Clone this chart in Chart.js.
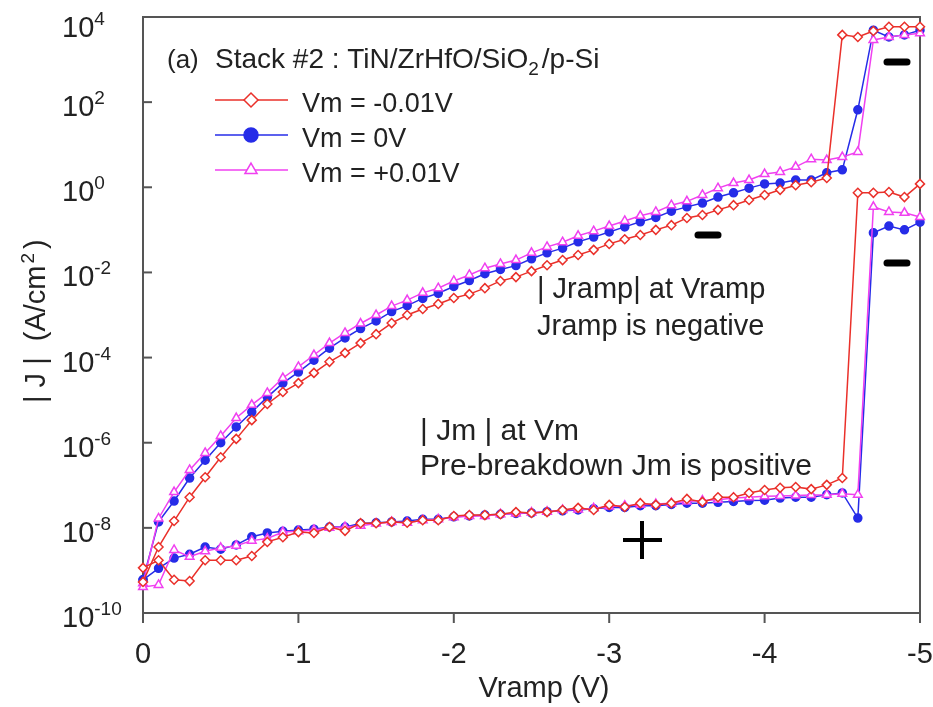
<!DOCTYPE html>
<html>
<head>
<meta charset="utf-8">
<title>Stack #2 J-V</title>
<script src="https://cdn.jsdelivr.net/npm/chart.js@4.4.1/dist/chart.umd.min.js"></script>
<style>
  body { margin: 0; background: #fff; }
</style>
</head>
<body>
<canvas id="myChart" width="933" height="707"></canvas>
<script>
// ramp voltage (V), one reading every 0.1 V
const vramp = [0, -0.1, -0.2, -0.3, -0.4, -0.5, -0.6, -0.7, -0.8, -0.9,
  -1.0, -1.1, -1.2, -1.3, -1.4, -1.5, -1.6, -1.7, -1.8, -1.9,
  -2.0, -2.1, -2.2, -2.3, -2.4, -2.5, -2.6, -2.7, -2.8, -2.9,
  -3.0, -3.1, -3.2, -3.3, -3.4, -3.5, -3.6, -3.7, -3.8, -3.9,
  -4.0, -4.1, -4.2, -4.3, -4.4, -4.5, -4.6, -4.7, -4.8, -4.9, -5.0];

// |J|, kept as powers of ten (log10 of A/cm2)
// |Jramp| at Vramp
const rampNeg = [-9.27, -8.45, -7.84, -7.28, -6.81, -6.34, -5.91, -5.47, -5.09, -4.81,
  -4.60, -4.36, -4.10, -3.89, -3.66, -3.45, -3.19, -3.00, -2.86, -2.74,
  -2.60, -2.51, -2.37, -2.20, -2.11, -1.97, -1.83, -1.71, -1.59, -1.47,
  -1.33, -1.22, -1.12, -1.00, -0.89, -0.72, -0.65, -0.53, -0.42, -0.30,
  -0.18, -0.06, 0.05, 0.12, 0.22, 3.58, 3.53, 3.67, 3.77, 3.77, 3.77];
const rampZero = [-9.22, -7.86, -7.37, -6.83, -6.41, -6.00, -5.63, -5.28, -4.93, -4.60,
  -4.34, -4.06, -3.78, -3.54, -3.32, -3.14, -2.92, -2.78, -2.61, -2.49,
  -2.33, -2.19, -2.03, -1.93, -1.84, -1.68, -1.54, -1.43, -1.28, -1.17,
  -1.05, -0.93, -0.81, -0.71, -0.56, -0.46, -0.37, -0.23, -0.13, -0.02,
  0.08, 0.10, 0.17, 0.17, 0.34, 0.41, 1.82, 3.69, 3.53, 3.58, 3.69];
const rampPos = [-9.30, -7.78, -7.16, -6.64, -6.24, -5.84, -5.42, -5.11, -4.83, -4.48,
  -4.22, -3.94, -3.66, -3.42, -3.20, -3.00, -2.79, -2.65, -2.48, -2.37,
  -2.20, -2.06, -1.90, -1.80, -1.71, -1.54, -1.40, -1.29, -1.14, -1.03,
  -0.91, -0.79, -0.67, -0.58, -0.42, -0.33, -0.18, -0.02, 0.10, 0.17,
  0.31, 0.36, 0.48, 0.66, 0.64, 0.71, 0.83, 3.46, 3.53, 3.58, 3.62];

// |Jm| at Vm
const jmNeg = [-8.94, -8.76, -9.22, -9.25, -8.76, -8.76, -8.76, -8.66, -8.33, -8.22,
  -8.10, -8.12, -7.98, -8.07, -7.89, -7.89, -7.86, -7.88, -7.82, -7.82,
  -7.72, -7.70, -7.70, -7.68, -7.63, -7.65, -7.63, -7.58, -7.53, -7.58,
  -7.46, -7.51, -7.42, -7.46, -7.42, -7.32, -7.39, -7.28, -7.28, -7.18,
  -7.11, -7.06, -7.04, -7.09, -6.99, -6.83, -0.13, -0.13, -0.11, -0.23, 0.08];
const jmZero = [-9.22, -8.95, -8.71, -8.62, -8.45, -8.50, -8.40, -8.21, -8.12, -8.08,
  -8.05, -8.03, -7.98, -7.98, -7.90, -7.88, -7.86, -7.84, -7.80, -7.80,
  -7.74, -7.72, -7.70, -7.68, -7.66, -7.65, -7.62, -7.60, -7.58, -7.55,
  -7.52, -7.52, -7.48, -7.48, -7.45, -7.42, -7.42, -7.40, -7.38, -7.36,
  -7.35, -7.30, -7.28, -7.28, -7.22, -7.18, -7.77, -1.07, -0.91, -1.00, -0.82];
const jmPos = [-9.39, -9.34, -8.52, -8.68, -8.55, -8.47, -8.42, -8.30, -8.25, -8.10,
  -8.08, -8.05, -8.00, -7.98, -7.95, -7.90, -7.86, -7.88, -7.82, -7.80,
  -7.75, -7.72, -7.72, -7.68, -7.66, -7.64, -7.62, -7.58, -7.57, -7.54,
  -7.50, -7.48, -7.46, -7.44, -7.42, -7.38, -7.36, -7.34, -7.30, -7.28,
  -7.26, -7.25, -7.24, -7.23, -7.22, -7.20, -7.22, -0.46, -0.58, -0.60, -0.70];

const seriesNames = ['Vm = -0.01V', 'Vm = 0V', 'Vm = +0.01V'];
const xTicks = [0, -1, -2, -3, -4, -5];
const yTickExp = [-10, -8, -6, -4, -2, 0, 2, 4];

const RED = 'rgb(234, 48, 42)';
const BLUE = 'rgb(38, 44, 232)';
const MAGENTA = 'rgb(240, 64, 240)';
const FONT = '"Liberation Sans", Arial, Helvetica, sans-serif';

function points(exps) {
  return vramp.map((v, i) => ({ x: v, y: Math.pow(10, exps[i]) }));
}

function series(label, exps, color, style, fill, radius) {
  return {
    label: label,
    data: points(exps),
    showLine: true,
    borderColor: color,
    borderWidth: 1.5,
    pointStyle: style,
    pointRadius: radius,
    pointBorderWidth: 1.5,
    pointBackgroundColor: fill,
    pointBorderColor: color,
    tension: 0,
    clip: false
  };
}

// first dataset ends up on top
const datasets = [
  series(seriesNames[0], jmNeg, RED, 'rectRot', '#fff', 4.5),
  series(seriesNames[0], rampNeg, RED, 'rectRot', '#fff', 4.5),
  series(seriesNames[2], jmPos, MAGENTA, 'triangle', '#fff', 5),
  series(seriesNames[2], rampPos, MAGENTA, 'triangle', '#fff', 5),
  series(seriesNames[1], jmZero, BLUE, 'circle', BLUE, 4),
  series(seriesNames[1], rampZero, BLUE, 'circle', BLUE, 4)
];

function txt(ctx, str, x, y, size, align) {
  ctx.font = size + 'px ' + FONT;
  ctx.textAlign = align || 'left';
  ctx.textBaseline = 'alphabetic';
  ctx.fillText(str, x, y);
  return ctx.measureText(str).width;
}

// frame, ticks, tick labels, legend and notes
const decor = {
  id: 'decor',
  beforeDatasetsDraw(chart) {
    const ctx = chart.ctx;
    const a = chart.chartArea;
    ctx.save();
    ctx.strokeStyle = '#555';
    ctx.lineWidth = 2;
    ctx.strokeRect(a.left, a.top, a.right - a.left, a.bottom - a.top);
    ctx.restore();
  },
  afterDraw(chart) {
    const ctx = chart.ctx;
    const a = chart.chartArea;
    const xs = chart.scales.x;
    const ys = chart.scales.y;
    ctx.save();
    ctx.strokeStyle = '#555';
    ctx.fillStyle = '#222';
    ctx.lineWidth = 2;

    // y ticks point inward, labels 10^n
    yTickExp.forEach(function (e) {
      const py = ys.getPixelForValue(Math.pow(10, e));
      ctx.beginPath();
      ctx.moveTo(a.left, py);
      ctx.lineTo(a.left + 9, py);
      ctx.stroke();
      const base = Math.max(py + 14, a.top + 20);
      const w = txt(ctx, '10', 62, base, 29);
      txt(ctx, String(e), 62 + w, base - 12, 19);
    });

    // x ticks point outward
    xTicks.forEach(function (v) {
      const px = xs.getPixelForValue(v);
      ctx.beginPath();
      ctx.moveTo(px, a.bottom);
      ctx.lineTo(px, a.bottom + 10);
      ctx.stroke();
      txt(ctx, String(v), px, 663, 29, 'center');
    });

    // axis titles
    txt(ctx, 'Vramp (V)', 544, 697, 29, 'center');
    ctx.save();
    ctx.translate(45, 403);
    ctx.rotate(-Math.PI / 2);
    let w = txt(ctx, '| J |  (A/cm', 0, 0, 29);
    w += txt(ctx, '2', w + 2, -11, 19);
    txt(ctx, ')', w + 6, 0, 29);
    ctx.restore();

    // title line
    txt(ctx, '(a)', 167, 68, 26);
    let tw = txt(ctx, 'Stack #2 : TiN/ZrHfO/SiO', 215, 68, 28);
    tw += txt(ctx, '2', 215 + tw, 75, 19);
    txt(ctx, '/p-Si', 215 + tw + 3, 68, 28);

    // legend: line with marker in the middle
    const rows = [100, 135, 170];
    const legendSets = [datasets[0], datasets[4], datasets[2]];
    legendSets.forEach(function (ds, i) {
      const yy = rows[i];
      ctx.strokeStyle = ds.borderColor;
      ctx.lineWidth = 1.5;
      ctx.beginPath();
      ctx.moveTo(215, yy);
      ctx.lineTo(288, yy);
      ctx.stroke();
      ctx.fillStyle = ds.pointBackgroundColor;
      Chart.helpers.drawPoint(ctx, {
        pointStyle: ds.pointStyle,
        radius: 7,
        rotation: 0,
        borderWidth: 1.5
      }, 251, yy);
      ctx.fillStyle = '#222';
      txt(ctx, seriesNames[i], 302, yy + 12, 27);
    });

    // notes on the curves
    ctx.fillStyle = '#222';
    txt(ctx, '| Jramp| at Vramp', 537, 298, 29);
    txt(ctx, 'Jramp is negative', 537, 335, 29);
    txt(ctx, '| Jm | at Vm', 420, 440, 30);
    txt(ctx, 'Pre-breakdown Jm is positive', 420, 475, 30);

    // sign marks
    ctx.strokeStyle = '#000';
    ctx.lineCap = 'round';
    ctx.lineWidth = 7;
    [[897, 62], [708, 235], [897, 263]].forEach(function (p) {
      ctx.beginPath();
      ctx.moveTo(p[0] - 10, p[1]);
      ctx.lineTo(p[0] + 10, p[1]);
      ctx.stroke();
    });
    ctx.lineCap = 'butt';
    ctx.lineWidth = 4;
    ctx.beginPath();
    ctx.moveTo(623, 540);
    ctx.lineTo(662, 540);
    ctx.moveTo(642, 521);
    ctx.lineTo(642, 559);
    ctx.stroke();
    ctx.restore();
  }
};

const ctx = document.getElementById('myChart').getContext('2d');
const chart = new Chart(ctx, {
  type: 'scatter',
  data: { datasets: datasets },
  options: {
    responsive: false,
    animation: false,
    devicePixelRatio: 1,
    layout: { padding: { top: 17, right: 13, left: 0, bottom: 0 } },
    plugins: {
      legend: { display: false },
      tooltip: { enabled: false }
    },
    scales: {
      x: {
        type: 'linear',
        min: -5,
        max: 0,
        reverse: true,
        ticks: { display: false },
        grid: { display: false },
        border: { display: false },
        afterFit: function (s) { s.height = 94; }
      },
      y: {
        type: 'logarithmic',
        min: 1e-10,
        max: 1e4,
        ticks: { display: false },
        grid: { display: false },
        border: { display: false },
        afterFit: function (s) { s.width = 143; }
      }
    }
  },
  plugins: [decor]
});
</script>
</body>
</html>
